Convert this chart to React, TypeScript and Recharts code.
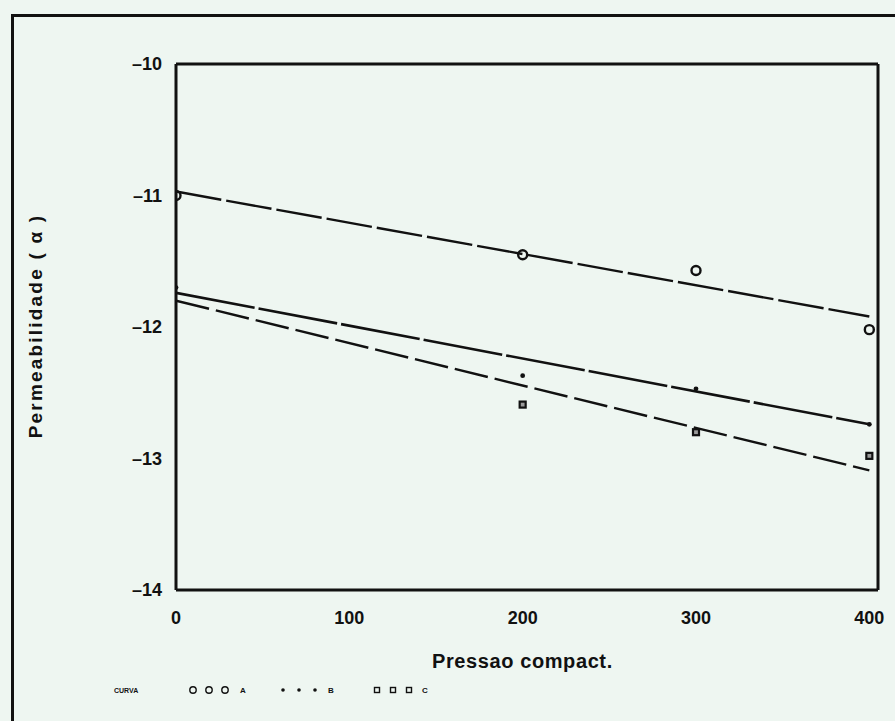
import React from "react";
import {
  ComposedChart,
  Line,
  Scatter,
  XAxis,
  YAxis,
  ReferenceLine,
} from "recharts";

// pressure values (x) and permeability (log, y)
const curveA = [
  { x: 0, y: -11.0 },
  { x: 200, y: -11.45 },
  { x: 300, y: -11.57 },
  { x: 400, y: -12.02 },
];
const curveB = [
  { x: 0, y: -11.7 },
  { x: 200, y: -12.37 },
  { x: 300, y: -12.47 },
  { x: 400, y: -12.74 },
];
const curveC = [
  { x: 200, y: -12.59 },
  { x: 300, y: -12.8 },
  { x: 400, y: -12.98 },
];
// fitted straight lines (end points)
const fitA = [
  { x: 0, y: -10.97 },
  { x: 400, y: -11.92 },
];
const fitB = [
  { x: 0, y: -11.74 },
  { x: 400, y: -12.74 },
];
const fitC = [
  { x: 0, y: -11.8 },
  { x: 400, y: -13.09 },
];

const xTicks = [0, 100, 200, 300, 400];
const yTicks = [-14, -13, -12, -11, -10];

const C = {
  paper: "#eef6f1",
  ink: "#111",
};

const FONT = "'Liberation Sans', Arial, sans-serif";

const OpenCircle = (p: any) => (
  <circle cx={p.cx} cy={p.cy} r={4.5} fill="none" stroke={C.ink} strokeWidth={2.4} />
);
const SmallDot = (p: any) => <circle cx={p.cx} cy={p.cy} r={2.4} fill={C.ink} />;
const SmallSquare = (p: any) => (
  <rect x={p.cx - 3} y={p.cy - 3} width={6} height={6} fill="#9a9a9a" stroke={C.ink} strokeWidth={2.2} />
);

const tickStyle = { fontSize: 18, fontWeight: 700, fill: C.ink, fontFamily: FONT };

export default function App() {
  return (
    <div
      style={{
        position: "absolute",
        left: 0,
        top: 0,
        width: 895,
        height: 721,
        background: C.paper,
        overflow: "hidden",
        fontFamily: FONT,
      }}
    >
      {/* outer frame of the figure */}
      <div
        style={{
          position: "absolute",
          left: 11,
          top: 14,
          width: 900,
          height: 760,
          borderLeft: `3px solid ${C.ink}`,
          borderTop: `3px solid ${C.ink}`,
        }}
      />

      <div style={{ position: "absolute", left: 0, top: 0 }}>
        <ComposedChart width={895} height={721} margin={{ top: 64, right: 17, left: 96, bottom: 71 }}>
          <XAxis
            type="number"
            dataKey="x"
            domain={[0, 405]}
            ticks={xTicks}
            allowDataOverflow
            tick={tickStyle}
            tickLine={false}
            tickSize={0}
            tickMargin={21}
            axisLine={{ stroke: C.ink, strokeWidth: 3 }}
            height={60}
          />
          <YAxis
            type="number"
            dataKey="y"
            domain={[-14, -10]}
            ticks={yTicks}
            allowDataOverflow
            tick={tickStyle}
            tickFormatter={(v) => `\u2013${Math.abs(v)}`}
            tickLine={false}
            tickSize={0}
            tickMargin={14}
            axisLine={{ stroke: C.ink, strokeWidth: 3 }}
            width={80}
          />
          {/* box: top and right edges */}
          <ReferenceLine y={-10} stroke={C.ink} strokeWidth={3} />
          <ReferenceLine x={405} stroke={C.ink} strokeWidth={3} />

          <Line data={fitA} dataKey="y" stroke={C.ink} strokeWidth={2.4} strokeDasharray="46 5" dot={false} isAnimationActive={false} legendType="none" />
          <Line data={fitB} dataKey="y" stroke={C.ink} strokeWidth={2.6} strokeDasharray="80 4" dot={false} isAnimationActive={false} legendType="none" />
          <Line data={fitC} dataKey="y" stroke={C.ink} strokeWidth={2.4} strokeDasharray="34 7" dot={false} isAnimationActive={false} legendType="none" />

          <Scatter data={curveA} dataKey="y" shape={OpenCircle} isAnimationActive={false} />
          <Scatter data={curveB} dataKey="y" shape={SmallDot} isAnimationActive={false} />
          <Scatter data={curveC} dataKey="y" shape={SmallSquare} isAnimationActive={false} />
        </ComposedChart>
      </div>

      {/* axis titles */}
      <div
        style={{
          position: "absolute",
          left: 432,
          top: 650,
          whiteSpace: "nowrap",
          fontSize: 20,
          fontWeight: 700,
          color: C.ink,
          letterSpacing: "0.6px",
        }}
      >
        Pressao compact.
      </div>
      <div
        style={{
          position: "absolute",
          left: 36,
          top: 326,
          transform: "translate(-50%, -50%) rotate(-90deg)",
          whiteSpace: "nowrap",
          fontSize: 19,
          fontWeight: 700,
          color: C.ink,
          letterSpacing: "2.2px",
        }}
      >
        Permeabilidade ( α )
      </div>

      {/* legend row */}
      <svg style={{ position: "absolute", left: 0, top: 680 }} width={500} height={20}>
        <text x={114} y={13} fontSize={7} fontWeight={700} fill={C.ink} fontFamily={FONT}>CURVA</text>
        {[193, 209, 225].map((cx) => (
          <circle key={cx} cx={cx} cy={10} r={3.2} fill="none" stroke={C.ink} strokeWidth={1.4} />
        ))}
        <text x={240} y={13} fontSize={8} fontWeight={700} fill={C.ink} fontFamily={FONT}>A</text>
        {[283, 299, 315].map((cx) => (
          <circle key={cx} cx={cx} cy={10} r={1.8} fill={C.ink} />
        ))}
        <text x={328} y={13} fontSize={8} fontWeight={700} fill={C.ink} fontFamily={FONT}>B</text>
        {[377, 393, 409].map((cx) => (
          <rect key={cx} x={cx - 2.5} y={7.5} width={5} height={5} fill="none" stroke={C.ink} strokeWidth={1.4} />
        ))}
        <text x={422} y={13} fontSize={8} fontWeight={700} fill={C.ink} fontFamily={FONT}>C</text>
      </svg>
    </div>
  );
}
